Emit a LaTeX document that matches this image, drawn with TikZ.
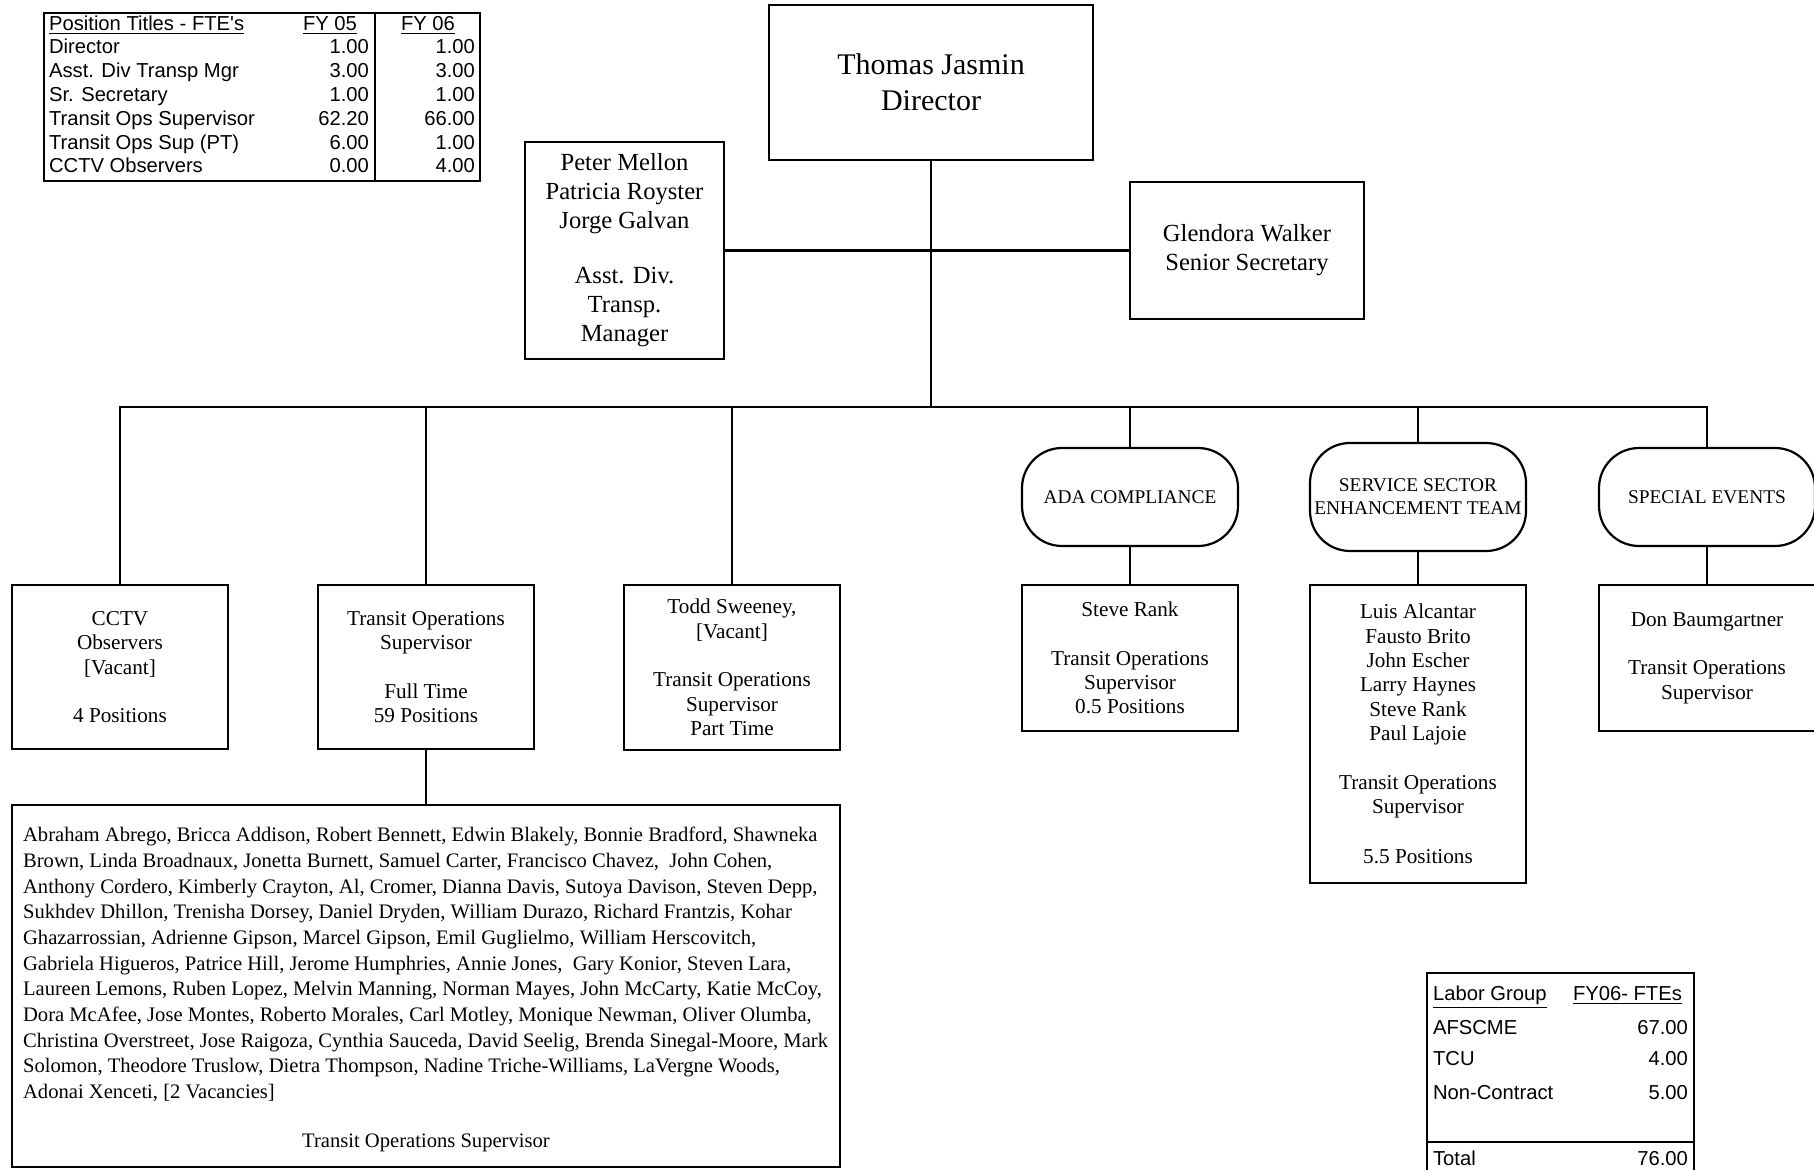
\documentclass[tikz,border=0pt]{standalone}
\usepackage{fontspec}
\setmainfont{Liberation Serif}
\newfontfamily\tabfont{Liberation Sans}
\begin{document}
\begin{tikzpicture}[x=0.5pt, y=-0.5pt, line width=1.1pt,
    box/.style={draw, align=center, inner sep=2pt, font=\fontsize{10.6}{12.2}\selectfont},
    topbox/.style={box, font=\fontsize{12.3}{14.5}\selectfont},
    unit/.style={box, rounded corners=20pt, font=\fontsize{9.7}{11.5}\selectfont},
    cell/.style={inner sep=0pt, text height=7.2pt, text depth=0pt, font=\tabfont\fontsize{10.1}{11.8}\selectfont}]
    \useasboundingbox (0,0) rectangle (1814,1170);
    % Director, assistants and secretary
    \node[box, font=\fontsize{15}{18}\selectfont, minimum width=162pt, minimum height=77.5pt] (dir) at (931,82.5) {Thomas Jasmin\\Director};
    \node[topbox, minimum width=99.5pt, minimum height=108.5pt] (asst) at (624.5,250.5) {Peter Mellon\\Patricia Royster\\Jorge Galvan\\[13pt]Asst. Div.\\Transp.\\Manager};
    \node[topbox, minimum width=117pt, minimum height=68.5pt] (sec) at (1247,250.5) {Glendora Walker\\Senior Secretary};
    \coordinate (bus) at (931,407);
    % Supervisor boxes on the left
    \node[box, minimum width=108pt, minimum height=82pt] (cctv) at (120,667) {CCTV\\Observers\\{[Vacant]}\\[12pt]4 Positions};
    \node[box, minimum width=108pt, minimum height=82pt] (tos) at (426,667) {Transit Operations\\Supervisor\\[12pt]Full Time\\59 Positions};
    \node[box, minimum width=108pt, minimum height=82.5pt] (todd) at (732,667.5) {Todd Sweeney,\\{[Vacant]}\\[12pt]Transit Operations\\Supervisor\\Part Time};
    % Units on the right
    \node[unit, minimum width=108pt, minimum height=49pt] (adaunit) at (1130,497) {ADA COMPLIANCE};
    \node[unit, minimum width=108pt, minimum height=54pt] (ssetunit) at (1418,497) {SERVICE SECTOR\\ENHANCEMENT TEAM};
    \node[unit, minimum width=108pt, minimum height=49pt] (specunit) at (1707,497) {SPECIAL EVENTS};
    \node[box, minimum width=108pt, minimum height=73pt] (adabox) at (1130,658) {Steve Rank\\[12pt]Transit Operations\\Supervisor\\0.5 Positions};
    \node[box, minimum width=108pt, minimum height=149pt] (ssetbox) at (1418,734) {Luis Alcantar\\Fausto Brito\\John Escher\\Larry Haynes\\Steve Rank\\Paul Lajoie\\[12pt]Transit Operations\\Supervisor\\[13pt]5.5 Positions};
    \node[box, minimum width=108pt, minimum height=73pt] (specbox) at (1707,658) {Don Baumgartner\\[12pt]Transit Operations\\Supervisor};
    % Full time supervisors
    \node[draw, minimum width=414pt, minimum height=181pt] (names) at (426,986) {};
    \node[anchor=north west, align=left, inner sep=0pt, font=\fontsize{10.3}{12.85}\selectfont] (namelist) at (22,826) {Abraham Abrego, Bricca Addison, Robert Bennett, Edwin Blakely, Bonnie Bradford, Shawneka\\
      Brown, Linda Broadnaux, Jonetta Burnett, Samuel Carter, Francisco Chavez, \ John Cohen,\\
      Anthony Cordero, Kimberly Crayton, Al, Cromer, Dianna Davis, Sutoya Davison, Steven Depp,\\
      Sukhdev Dhillon, Trenisha Dorsey, Daniel Dryden, William Durazo, Richard Frantzis, Kohar\\
      Ghazarrossian, Adrienne Gipson, Marcel Gipson, Emil Guglielmo, William Herscovitch,\\
      Gabriela Higueros, Patrice Hill, Jerome Humphries, Annie Jones, \ Gary Konior, Steven Lara,\\
      Laureen Lemons, Ruben Lopez, Melvin Manning, Norman Mayes, John McCarty, Katie McCoy,\\
      Dora McAfee, Jose Montes, Roberto Morales, Carl Motley, Monique Newman, Oliver Olumba,\\
      Christina Overstreet, Jose Raigoza, Cynthia Sauceda, David Seelig, Brenda Sinegal-Moore, Mark\\
      Solomon, Theodore Truslow, Dietra Thompson, Nadine Triche-Williams, LaVergne Woods,\\
      Adonai Xenceti, [2 Vacancies]};
    \node[anchor=base, inner sep=0pt, font=\fontsize{10.3}{12.85}\selectfont] (nametitle) at (426,1147) {Transit Operations Supervisor};
    % Connectors
    \draw (dir) -- (bus);
    \draw (asst) -- (sec);
    \draw (bus) -| (cctv);
    \draw (bus) -| (tos);
    \draw (bus) -| (todd);
    \draw (bus) -| (adaunit);
    \draw (bus) -| (ssetunit);
    \draw (bus) -| (specunit);
    \draw (adaunit) -- (adabox);
    \draw (ssetunit) -- (ssetbox);
    \draw (specunit) -- (specbox);
    \draw (tos.south) -- (tos.south |- names.north);
    % FTE table, top left
    \draw[line width=0.9pt] (44,13) rectangle (480,181) (375,13) -- (375,181);
    \node[cell, anchor=west] (fteh) at (48,23) {\underline{Position Titles - FTE's}};
    \node[cell] (fteha) at (330,23) {\underline{FY 05}};
    \node[cell] (ftehb) at (428,23) {\underline{FY 06}};
    \node[cell, anchor=west] (fte1) at (48,46) {Director};
    \node[cell, anchor=east] (fte1a) at (370,46) {1.00};
    \node[cell, anchor=east] (fte1b) at (476,46) {1.00};
    \node[cell, anchor=west] (fte2) at (48,70) {Asst. Div Transp Mgr};
    \node[cell, anchor=east] (fte2a) at (370,70) {3.00};
    \node[cell, anchor=east] (fte2b) at (476,70) {3.00};
    \node[cell, anchor=west] (fte3) at (48,94) {Sr. Secretary};
    \node[cell, anchor=east] (fte3a) at (370,94) {1.00};
    \node[cell, anchor=east] (fte3b) at (476,94) {1.00};
    \node[cell, anchor=west] (fte4) at (48,118) {Transit Ops Supervisor};
    \node[cell, anchor=east] (fte4a) at (370,118) {62.20};
    \node[cell, anchor=east] (fte4b) at (476,118) {66.00};
    \node[cell, anchor=west] (fte5) at (48,142) {Transit Ops Sup (PT)};
    \node[cell, anchor=east] (fte5a) at (370,142) {6.00};
    \node[cell, anchor=east] (fte5b) at (476,142) {1.00};
    \node[cell, anchor=west] (fte6) at (48,165) {CCTV Observers};
    \node[cell, anchor=east] (fte6a) at (370,165) {0.00};
    \node[cell, anchor=east] (fte6b) at (476,165) {4.00};
    % Labor group table, bottom right
    \draw[line width=0.9pt] (1427,1190) -- (1427,973) -- (1694,973) -- (1694,1190) (1427,1142) -- (1694,1142);
    \node[cell, anchor=west] (labh) at (1432,993) {\underline{Labor Group}};
    \node[cell, anchor=east] (labhv) at (1683,993) {\underline{FY06- FTEs}};
    \node[cell, anchor=west] (lab1) at (1432,1027) {AFSCME};
    \node[cell, anchor=east] (lab1v) at (1689,1027) {67.00};
    \node[cell, anchor=west] (lab2) at (1432,1058) {TCU};
    \node[cell, anchor=east] (lab2v) at (1689,1058) {4.00};
    \node[cell, anchor=west] (lab3) at (1432,1092) {Non-Contract};
    \node[cell, anchor=east] (lab3v) at (1689,1092) {5.00};
    \node[cell, anchor=west] (labt) at (1432,1158) {Total};
    \node[cell, anchor=east] (labtv) at (1689,1158) {76.00};
\end{tikzpicture}
\end{document}
